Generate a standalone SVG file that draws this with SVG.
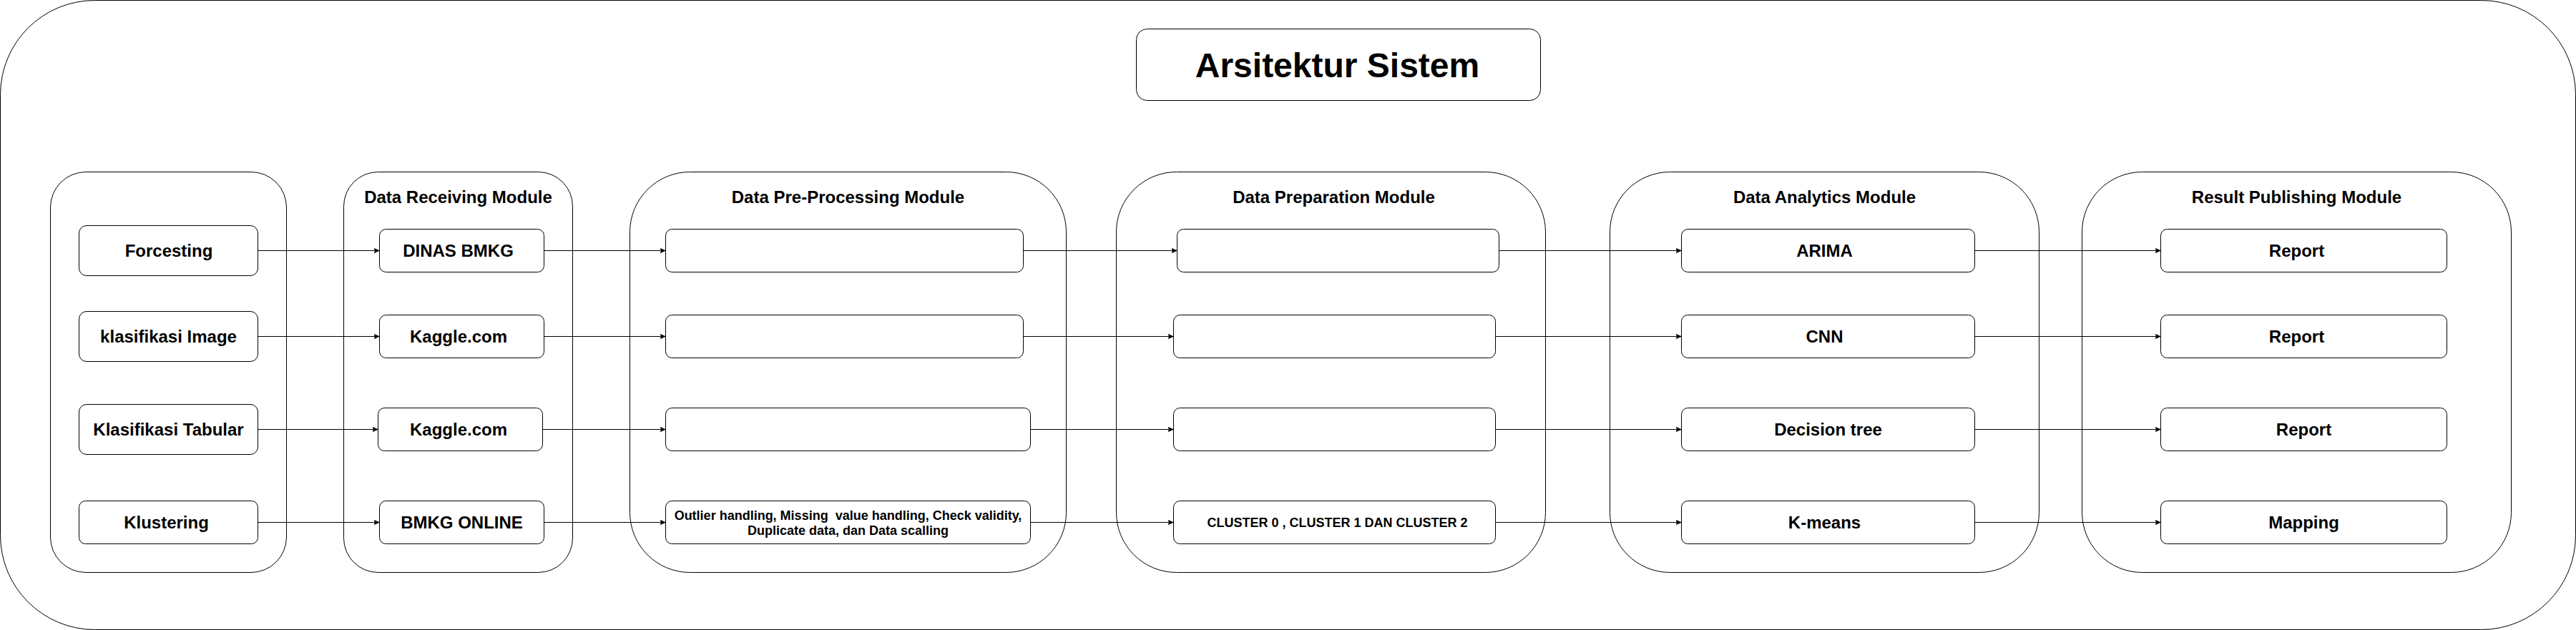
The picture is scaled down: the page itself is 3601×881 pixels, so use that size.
<svg xmlns="http://www.w3.org/2000/svg" width="3601" height="881" viewBox="0 0 3601 881">
<defs>
<style>
.c{fill:#fff;stroke:#000;stroke-width:1}
.b{fill:#fff;stroke:#000;stroke-width:1}
.t{font-family:"Liberation Sans",Arial,Helvetica,sans-serif;font-weight:bold;text-anchor:middle;fill:#000}
.s24{font-size:24px}
.s18{font-size:18px}
.s48{font-size:48px}
.e{fill:none;stroke:#000;stroke-width:1}
</style>
<marker id="arr" markerUnits="userSpaceOnUse" markerWidth="10" markerHeight="10" refX="8" refY="4" orient="auto" viewBox="0 0 10 10">
<path d="M0,0.5 L8,4 L0,7.5 L2,4 Z" fill="#000" stroke="#000" stroke-width="0.5"/>
</marker>
</defs>
<rect width="3601" height="881" fill="#fff"/>
<g transform="translate(0.5,0.5)">
<g id="outer"><rect class="c" x="0" y="0" width="3600" height="880" rx="132"/></g>
<g id="title"><rect class="b" x="1588" y="40" width="565" height="100" rx="15"/><text class="t s48" x="1869" y="107">Arsitektur Sistem</text></g>

<g id="mod-source"><rect class="c" x="70" y="240" width="330" height="560" rx="49.5"/></g>
<g id="mod-receiving"><rect class="c" x="480" y="240" width="320" height="560" rx="48"/><text class="t s24" x="640" y="283.5">Data Receiving Module</text></g>
<g id="mod-preprocessing"><rect class="c" x="880" y="240" width="610" height="560" rx="84"/><text class="t s24" x="1185" y="283.5">Data Pre-Processing Module</text></g>
<g id="mod-preparation"><rect class="c" x="1560" y="240" width="600" height="560" rx="84"/><text class="t s24" x="1864" y="283.5">Data Preparation Module</text></g>
<g id="mod-analytics"><rect class="c" x="2250" y="240" width="600" height="560" rx="84"/><text class="t s24" x="2550" y="283.5">Data Analytics Module</text></g>
<g id="mod-publishing"><rect class="c" x="2910" y="240" width="600" height="560" rx="84"/><text class="t s24" x="3210" y="283.5">Result Publishing Module</text></g>

<g id="src-forcesting"><rect class="b" x="110" y="315" width="250" height="70" rx="10.5"/><text class="t s24" x="235.5" y="358.5">Forcesting</text></g>
<g id="src-image"><rect class="b" x="110" y="435" width="250" height="70" rx="10.5"/><text class="t s24" x="235" y="478.5">klasifikasi Image</text></g>
<g id="src-tabular"><rect class="b" x="110" y="565" width="250" height="70" rx="10.5"/><text class="t s24" x="235" y="608.5">Klasifikasi Tabular</text></g>
<g id="src-klustering"><rect class="b" x="110" y="700" width="250" height="60" rx="9"/><text class="t s24" x="232" y="738.5">Klustering</text></g>

<g id="rcv-dinas"><rect class="b" x="530" y="320" width="230" height="60" rx="9"/><text class="t s24" x="640" y="358.5">DINAS BMKG</text></g>
<g id="rcv-kaggle1"><rect class="b" x="530" y="440" width="230" height="60" rx="9"/><text class="t s24" x="640.5" y="478.5">Kaggle.com</text></g>
<g id="rcv-kaggle2"><rect class="b" x="528" y="570" width="230" height="60" rx="9"/><text class="t s24" x="640.5" y="608.5">Kaggle.com</text></g>
<g id="rcv-bmkg"><rect class="b" x="530" y="700" width="230" height="60" rx="9"/><text class="t s24" x="645" y="738.5">BMKG ONLINE</text></g>

<g id="pre-1"><rect class="b" x="930" y="320" width="500" height="60" rx="9"/></g>
<g id="pre-2"><rect class="b" x="930" y="440" width="500" height="60" rx="9"/></g>
<g id="pre-3"><rect class="b" x="930" y="570" width="510" height="60" rx="9"/></g>
<g id="pre-4"><rect class="b" x="930" y="700" width="510" height="60" rx="9"/><text class="t s18" xml:space="preserve"><tspan x="1185" y="726">Outlier handling, Missing  value handling, Check validity,</tspan><tspan x="1185" y="747">Duplicate data, dan Data scalling</tspan></text></g>

<g id="prep-1"><rect class="b" x="1645" y="320" width="450" height="60" rx="9"/></g>
<g id="prep-2"><rect class="b" x="1640" y="440" width="450" height="60" rx="9"/></g>
<g id="prep-3"><rect class="b" x="1640" y="570" width="450" height="60" rx="9"/></g>
<g id="prep-4"><rect class="b" x="1640" y="700" width="450" height="60" rx="9"/><text class="t s18" x="1869" y="736.5" xml:space="preserve">CLUSTER 0 , CLUSTER 1 DAN CLUSTER 2</text></g>

<g id="ana-arima"><rect class="b" x="2350" y="320" width="410" height="60" rx="9"/><text class="t s24" x="2550" y="358.5">ARIMA</text></g>
<g id="ana-cnn"><rect class="b" x="2350" y="440" width="410" height="60" rx="9"/><text class="t s24" x="2550" y="478.5">CNN</text></g>
<g id="ana-dt"><rect class="b" x="2350" y="570" width="410" height="60" rx="9"/><text class="t s24" x="2555" y="608.5">Decision tree</text></g>
<g id="ana-kmeans"><rect class="b" x="2350" y="700" width="410" height="60" rx="9"/><text class="t s24" x="2550" y="738.5">K-means</text></g>

<g id="pub-report1"><rect class="b" x="3020" y="320" width="400" height="60" rx="9"/><text class="t s24" x="3210" y="358.5">Report</text></g>
<g id="pub-report2"><rect class="b" x="3020" y="440" width="400" height="60" rx="9"/><text class="t s24" x="3210" y="478.5">Report</text></g>
<g id="pub-report3"><rect class="b" x="3020" y="570" width="400" height="60" rx="9"/><text class="t s24" x="3220" y="608.5">Report</text></g>
<g id="pub-mapping"><rect class="b" x="3020" y="700" width="400" height="60" rx="9"/><text class="t s24" x="3220" y="738.5">Mapping</text></g>

<g id="connectors">
<path class="e" marker-end="url(#arr)" d="M360,350H530"/>
<path class="e" marker-end="url(#arr)" d="M760,350H930"/>
<path class="e" marker-end="url(#arr)" d="M1430,350H1645"/>
<path class="e" marker-end="url(#arr)" d="M2095,350H2350"/>
<path class="e" marker-end="url(#arr)" d="M2760,350H3020"/>
<path class="e" marker-end="url(#arr)" d="M360,470H530"/>
<path class="e" marker-end="url(#arr)" d="M760,470H930"/>
<path class="e" marker-end="url(#arr)" d="M1430,470H1640"/>
<path class="e" marker-end="url(#arr)" d="M2090,470H2350"/>
<path class="e" marker-end="url(#arr)" d="M2760,470H3020"/>
<path class="e" marker-end="url(#arr)" d="M360,600H528"/>
<path class="e" marker-end="url(#arr)" d="M758,600H930"/>
<path class="e" marker-end="url(#arr)" d="M1440,600H1640"/>
<path class="e" marker-end="url(#arr)" d="M2090,600H2350"/>
<path class="e" marker-end="url(#arr)" d="M2760,600H3020"/>
<path class="e" marker-end="url(#arr)" d="M360,730H530"/>
<path class="e" marker-end="url(#arr)" d="M760,730H930"/>
<path class="e" marker-end="url(#arr)" d="M1440,730H1640"/>
<path class="e" marker-end="url(#arr)" d="M2090,730H2350"/>
<path class="e" marker-end="url(#arr)" d="M2760,730H3020"/>
</g>
</g>
</svg>
